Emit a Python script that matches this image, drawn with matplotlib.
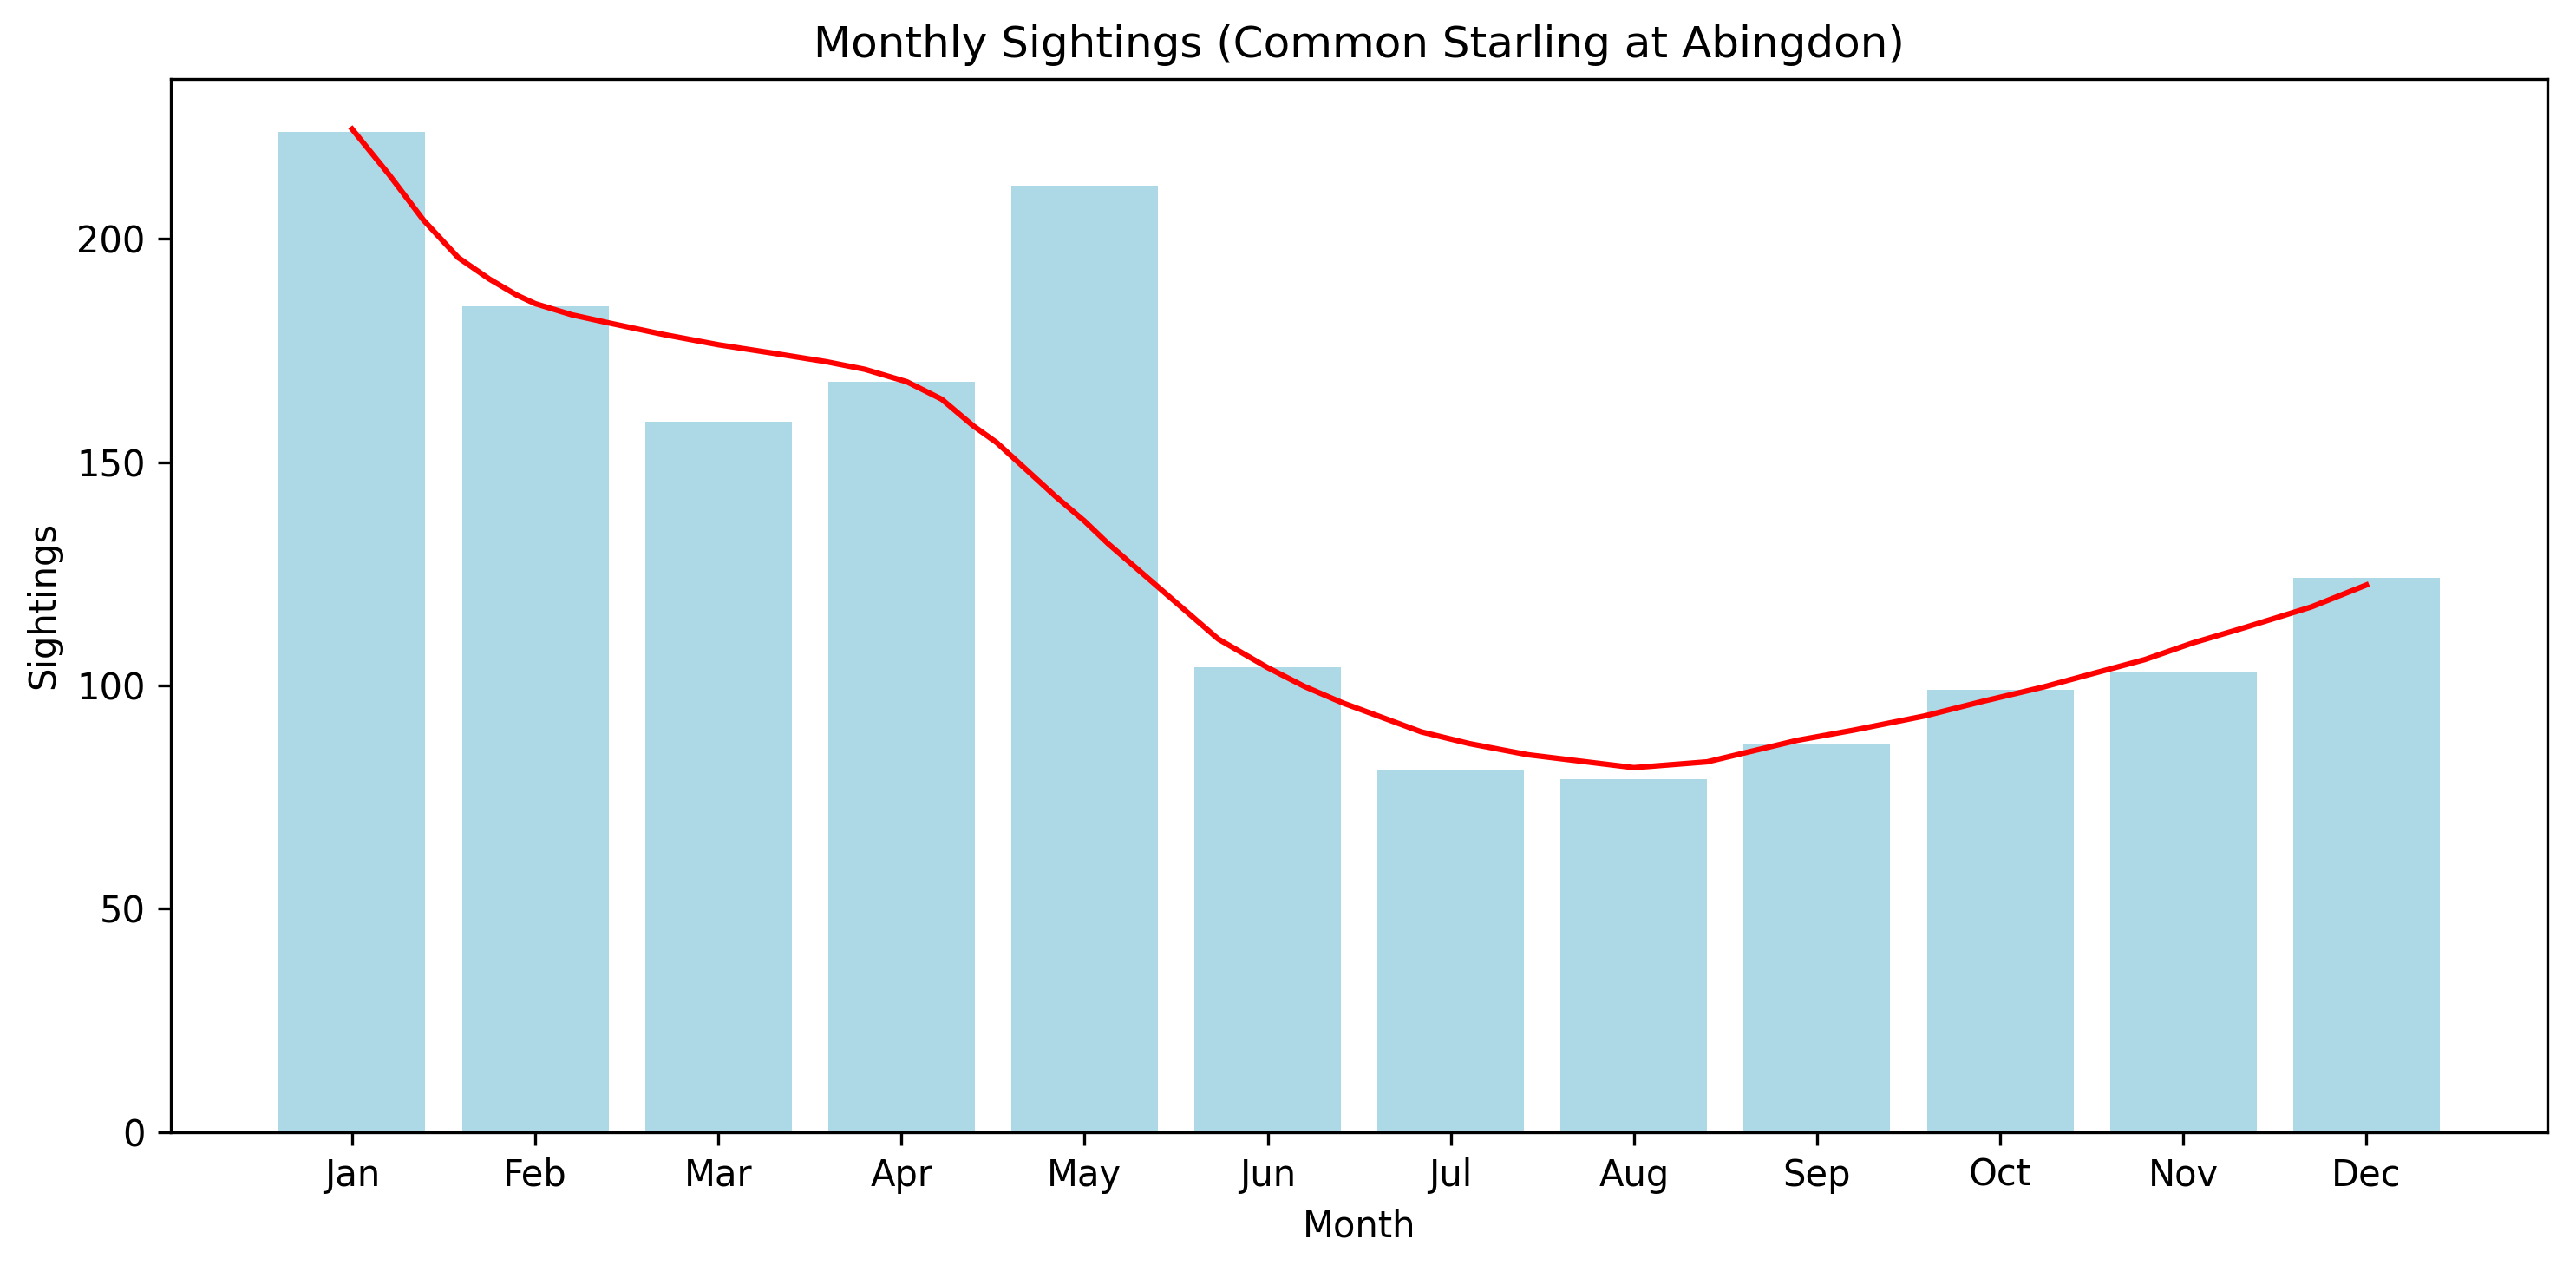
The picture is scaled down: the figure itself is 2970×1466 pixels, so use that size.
import matplotlib
matplotlib.use("Agg")
import matplotlib.pyplot as plt
import numpy as np

months = ["Jan", "Feb", "Mar", "Apr", "May", "Jun", "Jul", "Aug", "Sep", "Oct", "Nov", "Dec"]
sightings = [224, 185, 159, 168, 212, 104, 81, 79, 87, 99, 103, 124]

# smoothed trend (position in month index, value)
trend_pos = [0.0, 0.2, 0.39, 0.58, 0.75, 0.9, 1.0, 1.2, 1.4, 1.7, 2.0, 2.3, 2.59, 2.8, 3.03,
             3.22, 3.39, 3.52, 3.84, 4.0, 4.13, 4.42, 4.73, 5.0, 5.2, 5.41, 5.84, 6.1, 6.42,
             7.0, 7.4, 7.89, 8.2, 8.59, 8.9, 9.24, 9.5, 9.79, 10.05, 10.33, 10.7, 11.0]
trend_val = [224.6, 214.5, 204.2, 195.8, 191.0, 187.4, 185.5, 183.0, 181.2, 178.6, 176.3, 174.4, 172.5, 170.8, 168.0,
             164.1, 158.2, 154.4, 142.4, 136.8, 131.7, 121.4, 110.4, 104.0, 99.8, 96.1, 89.6, 87.0, 84.5,
             81.6, 82.9, 87.7, 90.0, 93.2, 96.4, 99.7, 102.6, 105.8, 109.5, 112.9, 117.6, 122.5]

fig = plt.figure(figsize=(9.9, 4.8867), dpi=300)
ax = fig.add_subplot(111)
fig.subplots_adjust(left=0.0663, right=0.989, top=0.938, bottom=0.110)

x = np.arange(len(months))
ax.bar(x, sightings, width=0.8, color="lightblue")
ax.plot(trend_pos, trend_val, color="red", linewidth=1.5)

ax.set_xticks(x)
ax.set_xticklabels(months)
ax.set_xlabel("Month")
ax.set_ylabel("Sightings")
ax.set_title("Monthly Sightings (Common Starling at Abingdon)")

fig.savefig("out.png", dpi=300)
